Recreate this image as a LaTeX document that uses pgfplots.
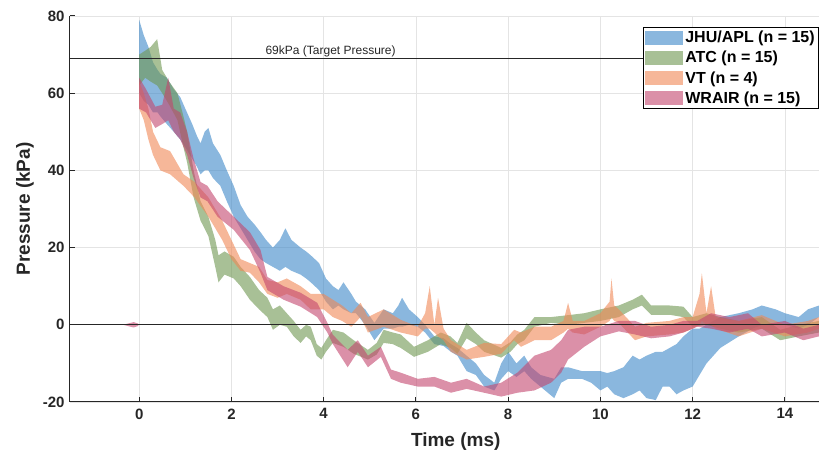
\documentclass[border=0pt]{standalone}
\usepackage{fontspec}
\setmainfont{Liberation Sans}
\usepackage{pgfplots}
\usepackage{pgfplotstable}
\pgfplotsset{compat=1.18}
\usepgfplotslibrary{fillbetween}

\definecolor{cjhu}{RGB}{60,135,200}
\definecolor{catc}{RGB}{110,150,80}
\definecolor{cvt}{RGB}{240,135,85}
\definecolor{cwr}{RGB}{195,70,110}
\definecolor{axgray}{RGB}{38,38,38}
\definecolor{gridgray}{RGB}{228,228,228}

% columns: time (ms), lower and upper edge of the band (kPa)
\pgfplotstableread{
t lo hi
0.00 60 79
0.05 59 77
0.10 58 75
0.20 57 72
0.30 55 68
0.40 55 66
0.46 54 65
0.60 52 64
0.75 50 61
0.89 48 59
1.00 46 56
1.15 43 52
1.25 41 49
1.33 39 47
1.42 40 50
1.50 40 51
1.60 38 47
1.76 36 44
1.90 32 40
2.05 28 36
2.20 25 31
2.35 22 28
2.50 19 26
2.63 17 24
2.75 16 22
2.90 15 20
3.05 14 22
3.17 15 25
3.30 14 22
3.50 13 20
3.62 12 19
3.72 11 18
3.90 9 16
4.05 6 12
4.20 4 10
4.32 5 9
4.43 4 11
4.60 3 8
4.70 3 6
4.90 0 4
5.10 -4 0.5
5.30 -1 4
5.50 -1 3
5.62 -0.5 5
5.70 -0.5 7
5.85 0 4
6.04 -0.5 2
6.20 -2 0
6.40 -5 -3
6.60 -5.5 -3.5
6.76 -7 -5
6.90 -8 -6
7.10 -12 -8
7.30 -13 -10
7.48 -16 -13
7.70 -17 -15
7.85 -14 -10
8.00 -12 -7
8.18 -13.5 -10
8.35 -12 -8
8.50 -14 -11
8.70 -16 -13
9.00 -19 -14
9.15 -15 -11
9.30 -14 -11
9.60 -14 -12
9.80 -15 -12
10.00 -17 -12
10.15 -16 -12.5
10.30 -18 -12
10.50 -19 -11
10.70 -18 -8
10.85 -17 -9
11.00 -19 -8
11.20 -19.5 -7
11.35 -16 -7
11.50 -16 -6
11.65 -18 -5
11.80 -17 -3
12.00 -16 -1
12.15 -13 -1
12.30 -10 0
12.60 -6 2
13.00 -3 3
13.30 -1 4
13.50 0 5
13.80 0 4
14.00 0 3
14.30 -1 2
14.50 0 4
14.74 2 5
}\jhu

\pgfplotstableread{
t lo hi
0.00 62 70
0.13 64 71
0.25 63 72
0.39 62 74
0.50 60 66
0.65 57 63
0.83 53 60
0.96 46 54
1.04 42 50
1.18 33 40
1.33 27 32
1.50 23 28
1.65 15 22
1.72 11 18
1.85 13 19
2.05 12 17.6
2.20 10 15
2.40 6.5 12.4
2.60 4 9
2.78 2 7
2.90 -1.3 4
3.05 0 5
3.20 -0.5 3
3.35 -3 1
3.50 -4.7 -1.3
3.62 -3 0
3.72 -4 -0.5
3.85 -8 -5
3.95 -9 -6
4.05 -7 -4
4.20 -4.7 -1.3
4.43 -5.7 -2
4.65 -7.5 -4
4.96 -9 -6.5
5.15 -7.7 -4.7
5.30 -4.7 -1.3
5.50 -5 -2
5.67 -6 -2.5
5.96 -8.3 -5.7
6.26 -7 -4
6.54 -5 -2
6.75 -6 -3
6.90 -7.5 -4.7
7.10 -3.5 0.5
7.30 -5 -2
7.48 -7 -4
7.85 -8.5 -6
8.05 -7 -4.5
8.20 -5 -2.5
8.35 -4 -1.3
8.57 -0.5 2
8.93 0.5 2
9.30 0 2.5
9.65 0.5 3
10.00 1 4
10.40 2 5
10.70 4 6.5
10.90 5 7.8
11.10 2.6 5
11.50 2.6 5
11.80 2 4.7
12.00 -0.5 2
12.30 0 3
12.60 -1 2
13.00 -2 1
13.50 -1 2
13.90 -4 -1.3
14.30 -3 0
14.74 -2 1
}\atc

\pgfplotstableread{
t lo hi
0.00 56 63
0.10 53 60
0.20 48 56
0.30 44 50
0.46 40 46
0.67 39 45
0.96 36 39
1.20 33 37
1.50 28 33
1.80 22 27
2.00 17 22
2.20 14 17
2.40 13.5 16
2.60 11 15
2.78 8 11.6
3.00 7 11
3.20 8 12
3.50 6.5 10
3.72 4 8
4.00 4 8
4.20 2 6.5
4.40 1 5
4.60 -0.5 3
4.80 2 5.7
4.96 -2 2
5.30 -0.5 4
5.67 -2 1.3
6.04 -3 -0.5
6.20 -1 3
6.30 -1 10
6.40 -2 0
6.48 -3 7
6.60 -4 -1
6.76 -7 -4
7.10 -9 -6.5
7.48 -8.3 -4.7
7.85 -7.5 -5
8.13 -4 -1.3
8.28 -5.7 -2
8.57 -4 -0.5
8.93 -4 -0.5
9.20 -2 1
9.30 -1 5.7
9.40 -2 1
9.65 -2.5 1
10.00 -0.5 3
10.20 1 6
10.24 2 12
10.30 1 5
10.40 0.5 4
10.75 -4 -0.5
11.00 -3 0.5
11.50 -2.5 1
11.80 -2 2
12.00 -1 2
12.15 0 8
12.20 1 13.4
12.30 0 3
12.40 0 10
12.50 -1 2
13.00 -3 1
13.50 -1 2.5
14.00 -3 0
14.50 -2 1
14.74 -1 2
}\vt

\pgfplotstableread{
t lo hi
0.00 56 64
0.15 55 61
0.35 51 56.5
0.50 52 57
0.63 53 64
0.75 50 56
0.89 48 55
1.04 44 50
1.18 38 43
1.33 33 37
1.48 32 36
1.70 28 32
2.05 24.6 28
2.40 19.4 24
2.63 13.5 19.4
2.78 9 12.4
3.13 6.5 10
3.50 4.7 8.3
3.86 2 5.7
4.08 -2 0.5
4.20 -5 -2.6
4.52 -11 -6.5
4.74 -7 -4
4.96 -11 -8
5.24 -8.3 -5.7
5.46 -14 -11.6
5.67 -15 -12.4
6.04 -16 -14
6.40 -16 -13.5
6.76 -17.6 -15
7.10 -16.6 -14
7.48 -17.6 -16
7.85 -18.6 -15
8.20 -17.6 -12.4
8.57 -17 -8
8.93 -15 -6.5
9.15 -12.4 -4
9.30 -9 -1.3
9.65 -5.7 -0.5
10.00 -3 -0.5
10.40 -1.7 1
10.75 -2.5 1
11.10 -3.5 -0.5
11.50 -3 0
11.80 -2 1
12.10 -0.5 1
12.40 -1 3
12.80 -2 2
13.20 -1 3
13.50 -3 0
14.00 -2 1
14.40 -4 -1
14.74 -3 0
}\wrair

\begin{document}
\begin{tikzpicture}
\begin{axis}[
  scale only axis,
  width=749pt, height=386pt,
  xmin=-1.5, xmax=14.74,
  ymin=-20, ymax=80,
  xtick={0,2,...,14},
  ytick={-20,0,...,80},
  axis x line*=bottom,
  axis y line*=left,
  axis line style={axgray, line width=1pt},
  tick align=inside,
  major tick length=5pt,
  tick style={axgray, line width=1pt},
  grid=major,
  major grid style={gridgray, line width=0.7pt},
  /pgf/number format/assume math mode=true,
  ticklabel style={font=\fontsize{15}{15}\selectfont\bfseries, text=axgray},
  xticklabel style={yshift=-3pt},
  yticklabel style={xshift=-2pt},
  xlabel={Time (ms)},
  ylabel={Pressure (kPa)},
  label style={font=\fontsize{19}{19}\selectfont\bfseries, text=axgray},
  xlabel style={at={(axis description cs:0.515,-0.1036)}, anchor=center},
  ylabel style={at={(axis description cs:-0.060,0.5)}, anchor=center},
  legend style={at={(axis description cs:1,0.9715)}, anchor=north east,
    draw=black, line width=0.6pt, fill=white,
    font=\fontsize{16}{16}\selectfont\bfseries,
    inner xsep=2pt, inner ysep=2pt, row sep=3pt},
  legend cell align=left,
]
\addplot[draw=none, name path=jU, forget plot] table[x=t, y=hi]{\jhu};
\addplot[draw=none, name path=jL, forget plot] table[x=t, y=lo]{\jhu};
\addplot[fill=cjhu, fill opacity=0.6, draw=none,
  legend image code/.code={\path[fill=cjhu, fill opacity=0.6] (0pt,-7pt) rectangle (38pt,7pt);}]
  fill between[of=jU and jL];
\addlegendentry{JHU/APL (n = 15)}

\addplot[draw=none, name path=aU, forget plot] table[x=t, y=hi]{\atc};
\addplot[draw=none, name path=aL, forget plot] table[x=t, y=lo]{\atc};
\addplot[fill=catc, fill opacity=0.6, draw=none,
  legend image code/.code={\path[fill=catc, fill opacity=0.6] (0pt,-7pt) rectangle (38pt,7pt);}]
  fill between[of=aU and aL];
\addlegendentry{ATC (n = 15)}

\addplot[draw=none, name path=vU, forget plot] table[x=t, y=hi]{\vt};
\addplot[draw=none, name path=vL, forget plot] table[x=t, y=lo]{\vt};
\addplot[fill=cvt, fill opacity=0.6, draw=none,
  legend image code/.code={\path[fill=cvt, fill opacity=0.6] (0pt,-7pt) rectangle (38pt,7pt);}]
  fill between[of=vU and vL];
\addlegendentry{VT (n = 4)}

\addplot[draw=none, name path=wU, forget plot] table[x=t, y=hi]{\wrair};
\addplot[draw=none, name path=wL, forget plot] table[x=t, y=lo]{\wrair};
\addplot[fill=cwr, fill opacity=0.6, draw=none,
  legend image code/.code={\path[fill=cwr, fill opacity=0.6] (0pt,-7pt) rectangle (38pt,7pt);}]
  fill between[of=wU and wL];
\addlegendentry{WRAIR (n = 15)}

% small pre-trigger trace
\addplot[fill=cwr, fill opacity=0.6, draw=none, forget plot] coordinates
  {(-0.35,0) (-0.12,0.7) (-0.02,0.3) (-0.02,-0.3) (-0.12,-0.7) (-0.35,0)} -- cycle;

% reference lines
\addplot[axgray, line width=0.8pt, forget plot] coordinates {(-1.5,69) (14.74,69)};
\addplot[axgray, line width=0.8pt, forget plot] coordinates {(-1.5,0) (14.74,0)};
\node[anchor=south, inner sep=1.5pt, font=\fontsize{12}{12}\selectfont, text=axgray]
  at (axis cs:4.15,69) {69kPa (Target Pressure)};
\end{axis}
\pgfresetboundingbox
\path[use as bounding box] (-70pt,-58pt) rectangle (749pt,402pt);
\end{tikzpicture}
\end{document}
